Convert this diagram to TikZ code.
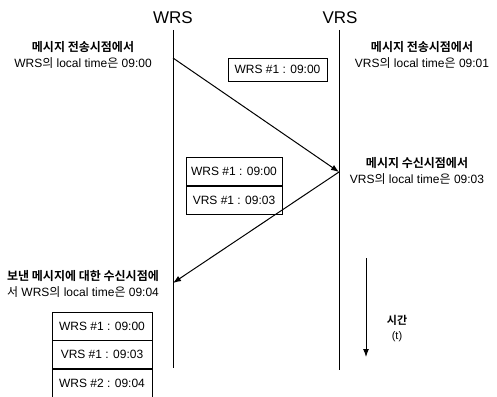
\documentclass[tikz,border=0pt]{standalone}
\usepackage{fontspec}
\setmainfont{Liberation Sans}
\newfontfamily\kr[BoldFont={Noto Sans CJK KR Bold}]{Noto Sans CJK KR}
\usepackage{tikz}
\usetikzlibrary{positioning,arrows.meta}

\begin{document}
\begin{tikzpicture}[
    x=1pt, y=-1pt,
    station/.style={font=\fontsize{17}{20}\selectfont},
    note/.style={align=center, font=\fontsize{12}{16}\selectfont, inner sep=0pt},
    cell/.style={rectangle, draw, line width=0.8pt, inner sep=0pt, minimum height=28pt, font=\fontsize{12}{14}\selectfont},
    lifeline/.style={line width=0.8pt},
    message/.style={-{Latex[length=8pt,width=6pt]}, line width=1pt}
]
    \useasboundingbox (0,0) rectangle (497,396);

    % Stations
    \node [station] (wrs) at (173,18) {WRS};
    \node [station] (vrs) at (340,18) {VRS};
    \coordinate (wtop) at (173,30);
    \coordinate (wbot) at (173,368);
    \coordinate (vtop) at (339,30);
    \coordinate (vbot) at (339,370);
    \draw [lifeline] (wtop) -- (wbot);
    \draw [lifeline] (vtop) -- (vbot);

    % Message points
    \coordinate (wsend) at (173,58);
    \coordinate (vrecv) at (339,172);
    \coordinate (wrecv) at (173,283);
    \draw [message] (wsend) -- (vrecv);
    \draw [message] (vrecv) -- (wrecv);

    % Notes
    \node [note] (wsendnote) at (83,55) {{\kr\bfseries 메시지 전송시점에서}\\WRS{\kr 의} local time{\kr 은} 09:00};
    \node [note] (vsendnote) at (422,55) {{\kr\bfseries 메시지 전송시점에서}\\VRS{\kr 의} local time{\kr 은} 09:01};
    \node [note] (vrecvnote) at (417,171) {{\kr\bfseries 메시지 수신시점에서}\\VRS{\kr 의} local time{\kr 은} 09:03};
    \node [note] (wrecvnote) at (83,284) {{\kr\bfseries 보낸 메시지에 대한 수신시점에}\\{\kr 서} WRS{\kr 의} local time{\kr 은} 09:04};

    % Time stamps
    \node [cell, minimum width=99pt, minimum height=23pt] (a1) at (277.5,69.5) {WRS \#1 : 09:00};
    \node [cell, minimum width=96pt] (b1) at (234,171.5) {WRS \#1 : 09:00};
    \node [cell, minimum width=96pt, below=0pt of b1] (b2) {VRS \#1 : 09:03};
    \node [cell, minimum width=100pt] (c1) at (102,326) {WRS \#1 : 09:00};
    \node [cell, minimum width=100pt, below=0pt of c1] (c2) {VRS \#1 : 09:03};
    \node [cell, minimum width=100pt, minimum height=32pt, text depth=4pt, below=0pt of c2] (c3) {WRS \#2 : 09:04};

    % Time axis
    \coordinate (tstart) at (366,258);
    \coordinate (tend) at (366,357);
    \draw [message] (tstart) -- (tend);
    \node [note, font=\fontsize{11}{15}\selectfont] (time) at (397,329) {{\kr\bfseries 시간}\\(t)};
\end{tikzpicture}
\end{document}
